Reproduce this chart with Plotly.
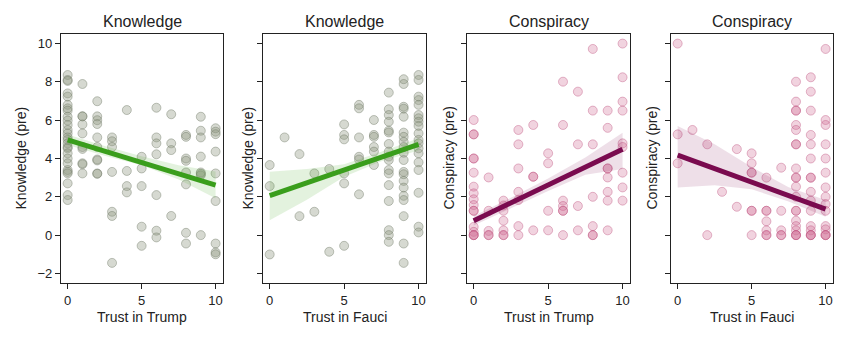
import plotly.graph_objects as go

W, H = 850, 340

# ---------------- data (y values grouped by trust level 0..10) ----------------
trust_levels = list(range(11))

knowledge_by_trump = [
    [8.36, 8.1, 8.05, 7.4, 7.23, 6.8, 6.62, 6.5, 6.18, 5.98, 5.75, 5.49, 5.31, 5.1, 4.97, 4.79, 4.6,
     4.53, 4.27, 4.0, 3.75, 3.4, 3.3, 3.22, 2.7, 2.09, 1.83],
    [7.89, 6.2, 6.2, 5.78, 5.31, 4.6, 4.5, 3.75, 3.7, 3.22],
    [6.99, 6.2, 6.0, 5.8, 5.1, 4.6, 3.95, 3.9, 3.22, 3.2],
    [5.1, 4.9, 4.6, 3.3, 1.22, 1.0, -1.45],
    [6.53, 3.35, 2.56, 2.23],
    [4.09, 3.48, 2.56, 0.44, -0.56],
    [6.65, 5.1, 4.79, 4.22, 2.09, 0.23, -0.12],
    [6.31, 4.79, 4.44, 1.0],
    [5.23, 5.13, 4.0, 3.88, 3.27, 2.65, 0.12, -0.44],
    [6.18, 5.45, 5.1, 4.1, 3.27, 3.12, 3.2, 0.0],
    [5.58, 5.4, 5.27, 4.36, 3.22, 1.78, -0.44, -0.9, -1.0],
]

knowledge_by_fauci = [
    [3.66, 2.56, -1.01],
    [5.1],
    [4.23, 0.99],
    [3.22, 1.22],
    [3.45, -0.87],
    [5.78, 5.23, 5.0, 3.22, 2.7, -0.56],
    [6.8, 6.62, 5.1, 4.09, 3.95, 2.13],
    [6.01, 5.23, 5.13, 4.6, 4.36, 3.66],
    [7.44, 6.57, 6.27, 5.92, 5.45, 5.36, 4.76, 4.36, 4.1, 3.92, 3.4, 3.22, 2.61, 1.78, 0.26, 0.0, -0.35],
    [8.14, 7.89, 6.7, 6.6, 6.18, 5.35, 5.13, 4.87, 4.6, 4.3, 3.92, 3.3, 3.18, 2.83, 2.48, 2.05, 1.83,
     0.99, -0.44, -1.45],
    [8.36, 8.1, 7.23, 7.05, 6.8, 6.27, 6.1, 5.92, 5.7, 5.31, 4.97, 4.79, 4.53, 4.27, 3.8, 3.4, 2.21,
     0.44, 0.14],
]

conspiracy_by_trump = [
    [6.01, 5.26, 5.26, 4.0, 4.0, 3.26, 2.53, 2.18, 1.87, 1.57, 1.27, 1.27, 0.43, 0.17, 0.0, 0.0, 0.0],
    [3.01, 1.27, 0.22, 0.0, 0.0],
    [1.8, 1.55, 1.27, 0.75, 0.25, 0.0, 0.0],
    [5.49, 4.74, 3.48, 2.26, 1.83, 0.47, 0.0],
    [5.75, 3.05, 3.05, 0.25],
    [4.27, 3.75, 1.27, 0.25],
    [8.01, 5.75, 1.8, 1.52, 1.27, 1.27, 0.0],
    [7.49, 4.74, 1.52, 0.25],
    [9.72, 6.5, 4.74, 2.0, 0.47, 0.0, 0.0],
    [6.5, 5.6, 3.48, 3.48, 3.01, 2.26, 1.8, 0.25],
    [10.0, 8.24, 6.97, 6.5, 4.79, 4.6, 3.26, 2.49, 1.8],
]

conspiracy_by_fauci = [
    [10.0, 5.26, 3.75],
    [5.49],
    [4.74, 0.0],
    [2.26],
    [4.49, 1.48],
    [4.27, 3.75, 3.26, 3.26, 1.27, 1.27, 0.0],
    [3.0, 1.27, 1.27, 0.72, 0.25, 0.0, 0.0],
    [3.52, 1.27, 0.25, 0.0, 0.0],
    [8.01, 6.97, 6.5, 6.5, 5.75, 5.49, 4.74, 4.74, 3.48, 3.0, 3.0, 2.53, 2.0, 1.27, 1.27, 0.75, 0.47,
     0.25, 0.0, 0.0, 0.0],
    [8.24, 7.49, 6.5, 5.23, 4.74, 4.0, 3.0, 3.0, 2.26, 1.8, 1.27, 0.47, 0.25, 0.0, 0.0, 0.0],
    [9.72, 6.01, 5.75, 4.74, 4.0, 3.26, 2.49, 2.0, 1.62, 1.27, 0.47, 0.3, 0.0, 0.0, 0.0],
]

# regression lines (value at trust 0 and 10) and confidence bands at band_x
fit_x = [0, 10]
fit_knowledge_trump = [4.97, 2.61]
fit_knowledge_fauci = [2.06, 4.74]
fit_conspiracy_trump = [0.75, 4.48]
fit_conspiracy_fauci = [4.18, 1.36]

band_x = [0, 2.5, 5, 7.5, 10]
band_knowledge_trump_lo = [4.70, 4.15, 3.65, 2.90, 1.93]
band_knowledge_trump_hi = [5.25, 4.65, 4.12, 3.65, 3.32]
band_knowledge_fauci_lo = [0.78, 1.85, 3.05, 3.85, 4.42]
band_knowledge_fauci_hi = [3.31, 3.45, 3.70, 4.35, 5.06]
band_conspiracy_trump_lo = [0.50, 1.40, 2.30, 3.15, 3.45]
band_conspiracy_trump_hi = [1.00, 1.95, 2.95, 4.05, 5.35]
band_conspiracy_fauci_lo = [2.48, 2.60, 2.40, 1.75, 0.96]
band_conspiracy_fauci_hi = [5.70, 4.75, 3.55, 2.50, 1.83]

panel_titles = ["Knowledge", "Knowledge", "Conspiracy", "Conspiracy"]
x_titles = ["Trust in Trump", "Trust in Fauci", "Trust in Trump", "Trust in Fauci"]
y_titles = ["Knowledge (pre)", "Knowledge (pre)", "Conspiracy (pre)", "Conspiracy (pre)"]
x_ticks = [0, 5, 10]
y_ticks = [-2, 0, 2, 4, 6, 8, 10]

# ---------------- styling ----------------
GREEN = "#3a9e1c"
PURPLE = "#7a0b4f"
styles = [
    dict(line=GREEN, band="rgba(90,180,60,0.17)", pt="rgba(140,150,128,0.36)", edge="rgba(110,120,100,0.42)"),
    dict(line=GREEN, band="rgba(90,180,60,0.17)", pt="rgba(140,150,128,0.36)", edge="rgba(110,120,100,0.42)"),
    dict(line=PURPLE, band="rgba(140,40,100,0.15)", pt="rgba(210,110,150,0.30)", edge="rgba(190,80,125,0.40)"),
    dict(line=PURPLE, band="rgba(140,40,100,0.15)", pt="rgba(210,110,150,0.30)", edge="rgba(190,80,125,0.40)"),
]

panels = [
    (knowledge_by_trump, fit_knowledge_trump, band_knowledge_trump_lo, band_knowledge_trump_hi),
    (knowledge_by_fauci, fit_knowledge_fauci, band_knowledge_fauci_lo, band_knowledge_fauci_hi),
    (conspiracy_by_trump, fit_conspiracy_trump, band_conspiracy_trump_lo, band_conspiracy_trump_hi),
    (conspiracy_by_fauci, fit_conspiracy_fauci, band_conspiracy_fauci_lo, band_conspiracy_fauci_hi),
]

# panel pixel boxes (left, right); plot top/bottom
px_lr = [(61, 223), (263, 426), (467, 630), (671, 833)]
top_px, bot_px = 34, 283
y_dom = [1 - bot_px / H, 1 - top_px / H]

FONT = "Liberation Sans, Arial, sans-serif"
TXT = "#222222"

fig = go.Figure()
annotations = []
layout_axes = {}

for i, (groups, fit, lo, hi) in enumerate(panels):
    st = styles[i]
    xa = "x" if i == 0 else f"x{i+1}"
    ya = "y" if i == 0 else f"y{i+1}"
    xs, ys = [], []
    for lvl, vals in zip(trust_levels, groups):
        xs += [lvl] * len(vals)
        ys += vals
    fig.add_trace(go.Scatter(
        x=xs, y=ys, mode="markers", xaxis=xa, yaxis=ya, showlegend=False,
        marker=dict(size=9, color=st["pt"], line=dict(color=st["edge"], width=1)),
    ))
    # confidence band
    fig.add_trace(go.Scatter(
        x=band_x + band_x[::-1], y=hi + lo[::-1], mode="lines", fill="toself",
        fillcolor=st["band"], line=dict(width=0), xaxis=xa, yaxis=ya, showlegend=False,
        hoverinfo="skip",
    ))
    fig.add_trace(go.Scatter(
        x=fit_x, y=fit, mode="lines", line=dict(color=st["line"], width=5),
        xaxis=xa, yaxis=ya, showlegend=False,
    ))

    l, r = px_lr[i]
    axis_common = dict(
        showline=True, linecolor="#222222", linewidth=1.2, mirror=True,
        ticks="outside", ticklen=5, tickwidth=1.2, tickcolor="#222222",
        showgrid=False, zeroline=False,
        tickfont=dict(family=FONT, size=13, color=TXT),
    )
    layout_axes["xaxis" if i == 0 else f"xaxis{i+1}"] = dict(
        axis_common, domain=[l / W, r / W], range=[-0.45, 10.5],
        tickvals=x_ticks, anchor=ya,
    )
    layout_axes["yaxis" if i == 0 else f"yaxis{i+1}"] = dict(
        axis_common, domain=y_dom, range=[-2.5, 10.5], tickvals=y_ticks,
        showticklabels=(i == 0), anchor=xa,
    )

    cx = (l + r) / 2 / W
    annotations.append(dict(
        text=panel_titles[i], x=cx, y=1 - 22 / H, xref="paper", yref="paper",
        showarrow=False, xanchor="center", yanchor="middle",
        font=dict(family=FONT, size=16, color=TXT),
    ))
    annotations.append(dict(
        text=x_titles[i], x=cx, y=1 - 317 / H, xref="paper", yref="paper",
        showarrow=False, xanchor="center", yanchor="middle",
        font=dict(family=FONT, size=14, color=TXT),
    ))
    ytx = [20, 247, 448, 651][i]
    annotations.append(dict(
        text=y_titles[i], x=ytx / W, y=(y_dom[0] + y_dom[1]) / 2, xref="paper", yref="paper",
        showarrow=False, xanchor="center", yanchor="middle", textangle=-90,
        font=dict(family=FONT, size=14, color=TXT),
    ))

fig.update_layout(
    width=W, height=H, margin=dict(l=0, r=0, t=0, b=0),
    paper_bgcolor="white", plot_bgcolor="white",
    annotations=annotations, **layout_axes,
)

fig.write_html("out.html", config={"displayModeBar": False})
